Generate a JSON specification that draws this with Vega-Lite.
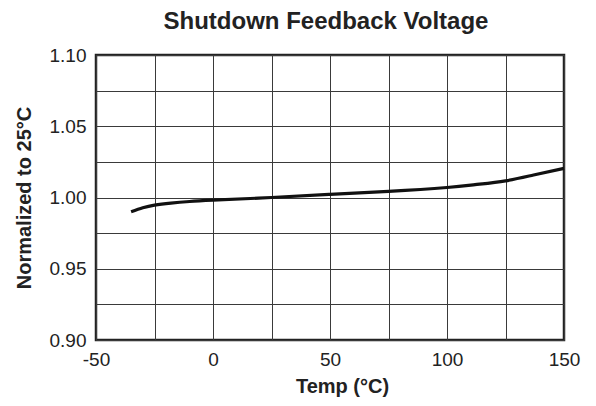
{
  "$schema": "https://vega.github.io/schema/vega-lite/v6.json",
  "width": 468,
  "height": 285,
  "autosize": "none",
  "padding": {"left": 96, "top": 55, "right": 32, "bottom": 66},
  "background": "white",
  "title": {
    "text": "Shutdown Feedback Voltage",
    "font": "Liberation Sans",
    "fontSize": 24,
    "fontWeight": "bold",
    "color": "#222",
    "anchor": "middle",
    "offset": 12,
    "dx": -4
  },
  "config": {
    "view": {"stroke": "#222", "strokeWidth": 2.5},
    "axis": {
      "labelFont": "Liberation Sans",
      "labelFontSize": 19,
      "labelColor": "#222",
      "titleFont": "Liberation Sans",
      "titleFontSize": 20,
      "titleFontWeight": "bold",
      "titleColor": "#222",
      "grid": true,
      "gridColor": "#3a3a3a",
      "gridWidth": 1,
      "gridOpacity": 1,
      "ticks": false,
      "domain": false
    }
  },
  "data": {
    "values": [
      {"t": -35, "v": 0.9900},
      {"t": -30, "v": 0.9928},
      {"t": -25, "v": 0.9947},
      {"t": -18, "v": 0.9961},
      {"t": -10, "v": 0.9972},
      {"t": 0, "v": 0.9981},
      {"t": 25, "v": 1.0000},
      {"t": 50, "v": 1.0022},
      {"t": 75, "v": 1.0043},
      {"t": 100, "v": 1.0070},
      {"t": 112, "v": 1.0090},
      {"t": 125, "v": 1.0117},
      {"t": 137, "v": 1.0158},
      {"t": 150, "v": 1.0204}
    ]
  },
  "mark": {"type": "line", "color": "#111", "strokeWidth": 3.2, "interpolate": "natural", "clip": false},
  "encoding": {
    "x": {
      "field": "t",
      "type": "quantitative",
      "scale": {"domain": [-50, 150], "nice": false, "zero": false},
      "axis": {"values": [-50, -25, 0, 25, 50, 75, 100, 125, 150], "labelExpr": "datum.value % 50 == 0 ? (datum.value < 0 ? '-' + abs(datum.value) : '' + datum.value) : ''", "title": "Temp (°C)", "labelPadding": 10, "titlePadding": 7, "labelFlush": false, "titleX": 246}
    },
    "y": {
      "field": "v",
      "type": "quantitative",
      "scale": {"domain": [0.9, 1.1], "nice": false, "zero": false},
      "axis": {"values": [0.9, 0.925, 0.95, 0.975, 1.0, 1.025, 1.05, 1.075, 1.1], "labelExpr": "abs(round(datum.value*1000) % 50) < 1 ? format(datum.value, '.2f') : ''", "title": "Normalized to 25°C", "labelPadding": 10, "titlePadding": 15, "labelFlush": false}
    }
  }
}
